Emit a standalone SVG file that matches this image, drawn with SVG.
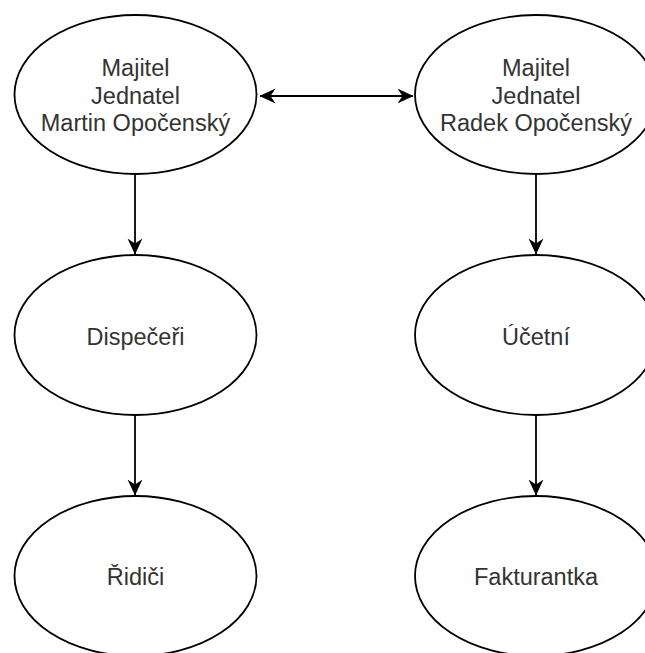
<svg xmlns="http://www.w3.org/2000/svg" width="645" height="653" viewBox="0 0 645 653">
<style>
.node ellipse{fill:#ffffff;stroke:#000000;stroke-width:1.8}
.node text{font-family:"Liberation Sans",Arial,sans-serif;font-size:23.5px;fill:#333333;text-anchor:middle}
.edge{stroke:#000000;stroke-width:1.8;fill:none}
</style>
<defs>
<marker id="arr" viewBox="0 0 16 16" refX="15.5" refY="8" markerWidth="16" markerHeight="16" markerUnits="userSpaceOnUse" orient="auto-start-reverse">
<path d="M0,0.5 L16,8 L0,15.5 L5,8 Z" fill="#000000"/>
</marker>
</defs>
<rect width="645" height="653" fill="#ffffff"/>
<g id="connectors">
<line class="edge" x1="260" y1="96" x2="413" y2="96" marker-start="url(#arr)" marker-end="url(#arr)"/>
<line class="edge" x1="135" y1="174" x2="135" y2="254" marker-end="url(#arr)"/>
<line class="edge" x1="536" y1="174" x2="536" y2="254" marker-end="url(#arr)"/>
<line class="edge" x1="135" y1="415" x2="135" y2="495" marker-end="url(#arr)"/>
<line class="edge" x1="536" y1="415" x2="536" y2="495" marker-end="url(#arr)"/>
</g>
<g id="martin" class="node">
<ellipse cx="135.5" cy="94.5" rx="121" ry="79.5"/>
<text x="135.5" y="76">Majitel</text>
<text x="135.5" y="103.5">Jednatel</text>
<text x="135.5" y="131">Martin Opočenský</text>
</g>
<g id="radek" class="node">
<ellipse cx="536" cy="94.5" rx="121" ry="79.5"/>
<text x="536" y="76">Majitel</text>
<text x="536" y="103.5">Jednatel</text>
<text x="536" y="131">Radek Opočenský</text>
</g>
<g id="dispeceri" class="node">
<ellipse cx="135.5" cy="335" rx="121" ry="80"/>
<text x="135.5" y="345">Dispečeři</text>
</g>
<g id="ucetni" class="node">
<ellipse cx="536" cy="335" rx="121" ry="80"/>
<text x="536" y="345">Účetní</text>
</g>
<g id="ridici" class="node">
<ellipse cx="135.5" cy="576" rx="121" ry="80"/>
<text x="135.5" y="585">Řidiči</text>
</g>
<g id="fakturantka" class="node">
<ellipse cx="536" cy="576" rx="121" ry="80"/>
<text x="536" y="585">Fakturantka</text>
</g>
</svg>
